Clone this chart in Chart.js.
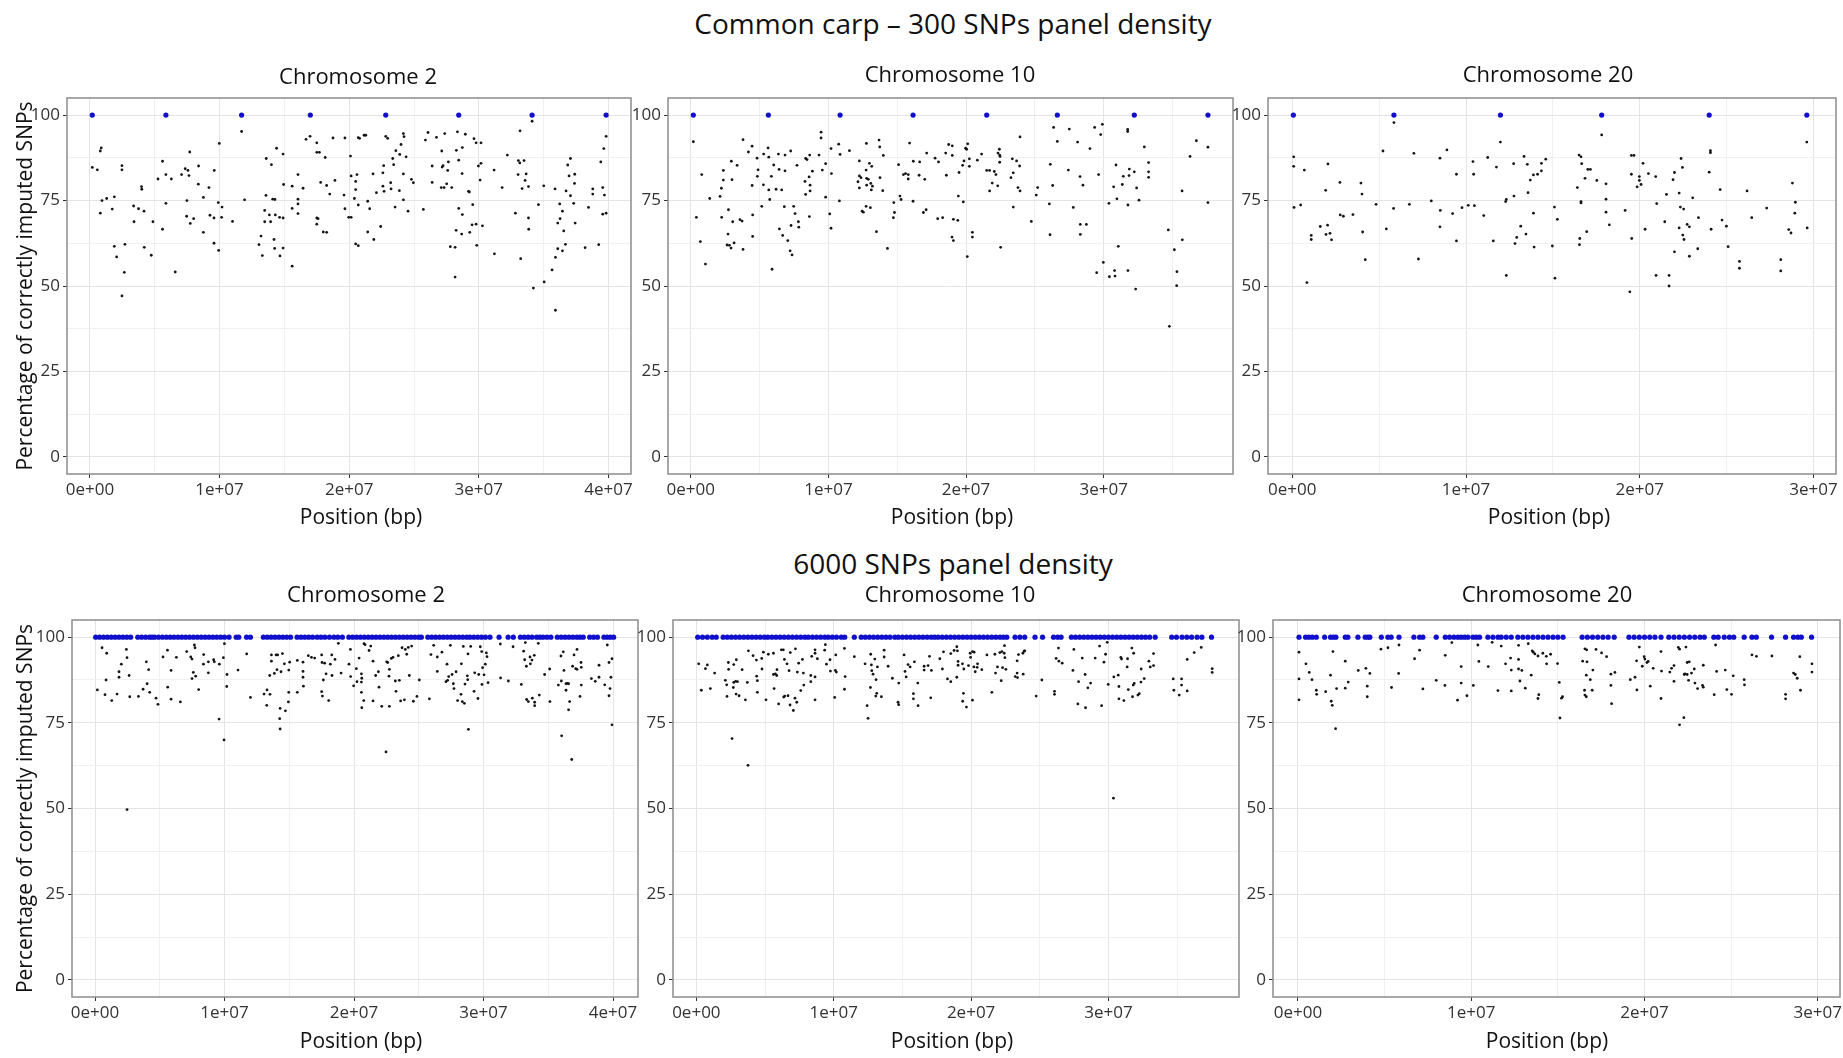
<!DOCTYPE html>
<html>
<head>
<meta charset="utf-8">
<title>Common carp imputation accuracy</title>
<script src="https://cdn.jsdelivr.net/npm/chart.js@4.4.1/dist/chart.umd.min.js"></script>
<style>
    html, body {
        margin: 0;
        padding: 0;
        background: #ffffff;
        overflow: hidden;
    }
    body {
        position: relative;
        width: 1843px;
        height: 1058px;
        font-family: 'Open Sans', sans-serif;
    }
    .heading {
        position: absolute;
        left: 63px;
        width: 1780px;
        text-align: center;
        font-size: 28px;
        line-height: 34px;
        color: #111111;
    }
    canvas {
        position: absolute;
    }
</style>
</head>
<body>
<div class="heading" style="top: 6px;">Common carp – 300 SNPs panel density</div>
<div class="heading" style="top: 546px;">6000 SNPs panel density</div>

<canvas id="chr2Top"></canvas>
<canvas id="chr10Top"></canvas>
<canvas id="chr20Top"></canvas>
<canvas id="chr2Bottom"></canvas>
<canvas id="chr10Bottom"></canvas>
<canvas id="chr20Bottom"></canvas>

<script>
// Axis ticks (positions in bp, percentages on y)
const xTickValues = [0, 1e7, 2e7, 3e7, 4e7];
const xTickLabels = ['0e+00', '1e+07', '2e+07', '3e+07', '4e+07'];
const xMinorValues = [5e6, 1.5e7, 2.5e7, 3.5e7];
const yTickValues = [0, 25, 50, 75, 100];
const yMinorValues = [12.5, 37.5, 62.5, 87.5];

// SNPs imputed with less than 100% accuracy: [position (Mb), % correct]
const chr2Snp300 = [
    [0.18,84.7],[0.57,84.0],[0.8,89.5],[0.87,90.4],[0.93,75.0],[0.8,71.3],[1.29,75.6],[1.88,76.1],[1.72,72.5],[1.88,61.6],
    [2.06,58.5],[2.47,85.2],[2.47,84.0],[2.7,62.2],[2.65,54.0],[2.47,47.1],[3.37,73.4],[3.4,68.8],[3.75,72.6],[3.98,79.1],
    [4.0,78.3],[4.17,71.9],[4.19,61.3],[4.73,59.0],[4.86,68.8],[5.25,81.3],[5.6,86.5],[5.6,66.6],[5.86,82.6],[5.86,74.2],
    [6.28,81.3],[6.58,54.1],[7.07,82.6],[7.35,84.3],[7.56,83.8],[7.64,82.3],[7.7,89.2],[7.48,75.0],[7.46,70.4],[7.74,68.3],
    [8.0,69.7],[8.38,85.1],[8.36,79.8],[8.75,75.9],[8.75,65.7],[9.18,78.8],[9.26,70.7],[9.59,83.8],[9.57,69.9],[9.57,62.5],
    [9.9,74.4],[10.19,73.1],[10.16,70.1],[9.93,60.4],[9.98,91.7],[11.0,68.9],[11.7,95.2],[11.93,75.2],[13.04,62.1],[13.2,64.6],
    [13.3,58.9],[13.48,68.8],[13.48,72.1],[13.58,76.5],[13.6,87.3],[13.94,68.8],[13.84,70.8],[14.0,85.5],[14.1,75.4],[14.27,75.3],
    [14.2,63.6],[14.25,61.0],[14.3,70.8],[14.4,90.3],[14.63,70.1],[14.66,58.8],[14.9,61.1],[14.9,69.9],[14.9,88.6],[14.94,79.7],
    [15.6,55.8],[15.6,72.7],[15.6,79.2],[16.05,82.6],[16.05,75.4],[16.05,74.0],[16.05,71.2],[16.44,78.6],[16.67,92.9],[16.98,93.8],
    [17.5,91.9],[17.5,89.1],[17.7,89.1],[17.8,80.3],[17.5,69.9],[17.6,69.7],[17.5,68.1],[18.0,65.8],[18.26,65.7],[18.15,87.6],
    [18.26,79.4],[18.5,76.9],[18.75,93.3],[18.9,80.9],[19.6,76.6],[19.67,93.3],[19.67,72.6],[19.96,70.1],[20.1,88.0],[20.15,82.2],
    [20.15,70.1],[20.4,75.6],[20.5,78.2],[20.5,80.6],[20.5,62.3],[20.6,82.6],[20.7,73.7],[20.7,61.8],[20.7,93.4],[20.8,93.2],
    [21.15,94.1],[21.28,94.1],[21.43,74.8],[21.43,65.8],[21.58,72.6],[21.84,82.8],[21.9,63.6],[22.1,77.3],[22.43,67.4],[22.6,83.1],
    [22.66,85.2],[22.6,79.2],[22.69,77.7],[22.82,93.8],[22.97,93.2],[23.2,80.2],[23.23,78.4],[23.36,87.3],[23.43,85.5],[23.54,73.1],
    [23.6,89.6],[23.87,77.9],[23.9,88.5],[24.0,91.4],[24.18,94.6],[24.23,93.7],[24.18,82.8],[24.18,75.2],[24.39,87.8],[24.54,71.9],
    [24.8,81.2],[24.95,80.2],[25.72,72.4],[25.88,92.7],[26.08,94.9],[26.4,85.1],[26.4,80.3],[26.73,93.5],[27.1,78.8],[27.14,89.5],
    [27.17,84.8],[27.24,85.2],[27.32,78.8],[27.37,94.6],[27.52,79.9],[27.6,83.8],[27.65,86.3],[27.91,78.8],[27.8,61.5],[28.17,61.3],
    [28.17,52.6],[28.25,66.3],[28.27,89.7],[28.35,95.1],[28.45,86.8],[28.45,72.7],[28.68,65.2],[28.71,82.9],[28.73,90.5],[28.73,70.9],
    [28.96,94.4],[29.2,77.7],[29.27,77.5],[29.3,65.7],[29.48,67.9],[29.53,73.8],[29.63,93.1],[29.79,91.9],[29.79,68.1],[29.84,61.9],
    [29.97,85.1],[30.1,81.0],[30.17,85.9],[30.17,91.9],[30.28,67.6],[31.18,83.9],[31.2,59.4],[31.8,78.8],[32.2,88.3],[32.82,71.3],
    [33.03,82.6],[33.05,86.7],[33.16,86.0],[33.18,95.4],[33.23,58.0],[33.34,78.5],[33.49,86.7],[33.57,80.9],[33.65,82.8],[33.83,79.1],
    [33.83,69.9],[33.85,66.6],[34.11,98.2],[34.21,49.4],[34.6,73.8],[35.01,79.3],[35.04,51.2],[35.65,54.7],[35.88,78.4],[35.91,58.4],
    [35.91,42.9],[36.09,60.9],[36.09,68.4],[36.24,74.0],[36.27,69.7],[36.45,60.3],[36.45,71.9],[36.55,66.1],[36.68,62.2],[36.73,77.8],
    [36.86,85.4],[36.96,82.2],[37.07,87.3],[37.07,76.4],[37.32,74.2],[37.38,80.0],[37.4,82.7],[37.43,68.4],[38.2,61.2],[38.46,73.0],
    [38.79,78.4],[38.79,76.9],[39.25,62.1],[39.41,86.3],[39.56,78.8],[39.56,71.0],[39.64,90.2],[39.69,76.6],[39.82,93.8],[39.82,71.3]
];

const chr10Snp300 = [
    [0.19,92.2],[0.41,70.1],[0.7,63.0],[0.8,82.6],[1.07,56.4],[1.38,75.6],[2.13,76.2],[2.25,70.1],[2.23,78.6],[2.37,81.0],
    [2.37,83.8],[2.74,72.3],[2.71,65.2],[2.64,62.0],[2.81,61.9],[2.93,61.1],[2.95,86.5],[3.0,81.1],[3.05,68.8],[3.15,62.6],
    [3.37,85.3],[3.58,69.4],[3.73,69.0],[3.8,92.8],[3.8,60.7],[4.19,89.2],[4.46,90.9],[4.46,79.4],[4.5,70.8],[4.5,64.5],
    [4.82,87.4],[4.84,82.1],[4.89,84.0],[5.16,73.3],[5.28,79.6],[5.3,88.6],[5.62,90.4],[5.67,87.7],[5.67,78.1],[5.74,75.3],
    [5.86,82.1],[5.91,54.9],[6.03,85.4],[6.2,78.3],[6.37,88.6],[6.42,84.1],[6.44,66.7],[6.61,78.1],[6.68,64.8],[6.8,73.2],
    [6.85,88.3],[6.85,83.7],[7.05,63.3],[7.22,60.3],[7.26,89.5],[7.29,67.7],[7.36,59.1],[7.48,73.3],[7.58,71.2],[7.72,85.3],
    [7.82,68.8],[7.85,67.2],[8.3,80.6],[8.35,76.8],[8.35,87.3],[8.45,87.0],[8.6,81.9],[8.62,70.3],[8.64,88.3],[8.67,79.5],
    [8.67,77.8],[8.84,83.6],[9.32,88.3],[9.47,95.0],[9.47,93.3],[9.56,83.9],[9.8,85.8],[9.8,76.0],[10.1,71.1],[10.19,66.9],
    [10.19,90.2],[10.22,82.9],[10.75,91.5],[10.85,88.5],[10.8,74.9],[11.53,89.6],[12.15,80.5],[12.25,86.6],[12.25,82.2],[12.25,78.7],
    [12.37,81.7],[12.45,71.9],[12.54,71.6],[12.74,83.9],[12.74,73.3],[12.76,91.7],[12.78,81.5],[12.78,79.5],[12.9,81.2],[12.98,85.9],
    [13.05,72.9],[13.08,80.0],[13.12,78.1],[13.15,85.0],[13.2,79.2],[13.49,65.9],[13.68,92.7],[13.73,90.7],[13.75,81.7],[13.99,88.2],
    [13.95,77.9],[14.29,61.0],[14.75,74.4],[14.72,70.0],[14.8,71.5],[15.1,85.5],[15.2,76.3],[15.28,75.3],[15.45,82.6],[15.6,82.9],
    [15.8,82.6],[15.8,81.3],[15.9,91.8],[16.17,86.5],[16.15,74.8],[16.63,86.3],[16.59,82.4],[16.9,71.5],[17.0,81.2],[17.1,72.3],
    [17.14,88.9],[17.75,87.4],[17.94,69.7],[18.0,86.3],[18.3,70.0],[18.52,88.9],[18.57,82.4],[18.74,91.4],[19.0,91.0],[19.0,88.2],
    [18.98,64.3],[19.08,63.3],[19.08,69.5],[19.4,69.2],[19.44,76.3],[19.49,83.2],[19.8,74.6],[19.75,85.3],[19.85,86.6],[19.97,90.3],
    [20.04,90.0],[20.12,91.6],[20.09,58.6],[20.24,87.2],[20.24,85.0],[20.46,65.7],[20.46,64.3],[20.82,86.8],[21.13,88.6],[21.5,83.8],
    [21.71,83.8],[21.71,77.8],[21.9,80.1],[22.05,83.5],[22.17,82.6],[22.32,88.9],[22.3,79.3],[22.42,90.0],[22.44,88.3],[22.44,86.2],
    [22.47,87.9],[22.51,61.3],[23.26,81.7],[23.36,87.2],[23.43,83.1],[23.43,73.1],[23.67,86.6],[23.77,78.8],[23.89,85.1],[23.92,77.8],
    [23.92,93.6],[24.74,68.9],[25.1,76.6],[25.2,78.8],[26.05,74.0],[26.1,65.0],[26.12,85.6],[26.29,79.4],[26.36,96.4],[26.63,92.3],
    [27.43,83.9],[27.5,95.9],[27.79,73.0],[28.1,92.1],[28.28,82.0],[28.3,68.0],[28.3,65.1],[28.49,79.5],[28.74,68.0],[29.0,90.2],
    [29.34,96.4],[29.49,53.9],[29.63,82.6],[29.78,94.3],[29.9,97.3],[29.97,56.9],[30.38,74.2],[30.41,52.7],[30.72,79.0],[30.79,54.5],
    [30.82,52.9],[30.89,85.4],[30.96,75.5],[31.06,61.6],[31.35,79.7],[31.42,82.1],[31.74,95.2],[31.74,95.8],[31.76,73.7],[31.76,54.5],
    [31.84,82.3],[31.86,84.2],[32.22,83.4],[32.32,49.1],[32.39,78.7],[32.56,75.1],[32.95,90.7],[33.26,86.1],[33.26,83.4],[33.26,81.8],
    [34.69,66.4],[34.77,38.2],[35.13,60.6],[35.32,54.2],[35.3,50.1],[35.69,77.8],[35.71,63.5],[36.27,87.9],[36.73,92.5],[37.57,90.6],
    [37.57,74.4]
];

const chr20Snp300 = [
    [0.08,87.8],[0.08,85.0],[0.1,73.0],[0.48,73.7],[0.69,83.9],[0.84,51.0],[1.09,64.8],[1.09,63.6],[1.61,67.4],[1.92,78.0],
    [1.94,65.1],[2.03,67.8],[2.05,85.7],[2.17,65.4],[2.26,63.5],[2.74,80.3],[2.76,70.8],[2.94,70.4],[3.49,70.9],[3.95,80.1],
    [4.01,76.9],[4.05,65.8],[4.2,57.7],[4.82,73.9],[5.22,89.5],[5.41,66.7],[5.83,72.7],[5.85,97.8],[6.74,73.9],[7.0,88.8],
    [7.26,57.9],[8.0,74.9],[8.5,87.4],[8.52,72.1],[8.5,67.3],[8.9,89.8],[9.23,71.2],[9.45,82.7],[9.45,63.2],[9.77,72.9],
    [10.13,73.6],[10.4,86.4],[10.44,82.7],[10.48,73.5],[11.02,70.6],[11.25,87.6],[11.57,63.2],[11.75,84.8],[11.98,92.1],[12.28,74.7],
    [12.32,75.3],[12.32,53.1],[12.74,85.8],[12.76,76.3],[12.82,62.4],[12.92,64.2],[13.15,67.5],[13.34,87.9],[13.45,65.2],[13.53,85.6],
    [13.57,77.3],[13.7,81.0],[13.88,82.5],[13.88,71.3],[13.92,61.4],[14.12,82.7],[14.34,85.9],[14.34,83.7],[14.59,87.1],[14.97,61.7],
    [15.09,73.1],[15.12,52.3],[15.26,69.5],[16.41,78.8],[16.51,88.3],[16.55,63.9],[16.53,62.1],[16.62,87.8],[16.62,74.7],[16.62,74.3],
    [16.66,85.8],[16.85,81.5],[16.95,65.9],[17.01,84.1],[17.16,84.1],[17.53,80.9],[17.81,94.2],[18.06,79.9],[18.06,75.4],[18.06,71.6],
    [18.25,67.9],[19.16,72.1],[19.43,48.3],[19.52,88.2],[19.67,88.2],[19.52,82.7],[19.54,63.9],[19.85,79.0],[19.98,82.0],[19.98,80.9],
    [20.08,79.7],[20.19,85.9],[20.31,66.6],[20.5,82.9],[20.92,82.0],[20.94,53.1],[20.98,74.1],[21.44,68.8],[21.54,76.8],[21.69,53.1],
    [21.69,50.0],[21.92,81.1],[22.0,83.2],[22.0,60.0],[22.27,77.2],[22.27,67.0],[22.34,73.1],[22.38,87.3],[22.46,84.7],[22.48,64.9],
    [22.53,72.5],[22.55,63.6],[22.73,68.0],[22.86,67.3],[22.86,58.7],[23.05,75.8],[23.34,60.9],[23.38,70.0],[24.0,83.3],[24.07,89.6],
    [24.07,89.0],[24.11,66.6],[24.63,78.2],[24.74,69.3],[24.99,67.5],[25.09,61.5],[25.74,57.2],[25.74,55.2],[26.18,77.8],[26.45,70.0],
    [27.31,72.8],[28.12,57.7],[28.12,54.4],[28.58,66.5],[28.71,65.5],[28.79,80.1],[28.93,71.3],[28.96,74.5],[29.62,92.1],[29.64,67.0]
];

const chr2Snp6000 = [
    [0.18,84.6],[0.54,96.9],[0.77,83.2],[0.85,87.5],[0.9,95.3],[1.29,81.5],[1.7,83.4],[1.85,89.9],[1.85,88.3],[2.03,92.1],
    [2.42,96.4],[2.47,94.0],[2.47,49.7],[2.63,88.8],[2.68,82.6],[3.35,82.7],[3.71,84.8],[3.96,92.8],[4.02,86.4],[4.14,90.5],
    [4.22,83.9],[4.71,82.2],[4.86,80.4],[5.25,94.2],[5.59,96.2],[5.61,85.4],[5.87,90.3],[5.87,81.9],[6.28,94.1],[6.59,81.1],
    [7.08,95.8],[7.39,94.2],[7.49,93.6],[7.49,87.9],[7.59,89.7],[7.67,97.7],[7.72,96.9],[7.77,88.6],[8.0,84.7],[8.39,94.9],
    [8.37,92.1],[8.75,92.8],[8.75,89.6],[9.16,93.4],[9.21,92.8],[9.58,76.1],[9.6,92.1],[9.91,94.0],[9.99,98.1],[9.96,70.0],
    [10.19,89.1],[10.17,85.6],[11.04,90.4],[11.71,95.1],[12.0,82.4],[13.05,83.4],[13.28,84.6],[13.26,80.1],[13.49,88.8],[13.51,83.3],
    [13.62,93.0],[13.62,94.8],[13.85,89.4],[13.98,94.8],[14.1,94.8],[14.05,90.5],[14.29,79.2],[14.26,76.2],[14.29,73.2],[14.36,89.9],
    [14.47,95.2],[14.62,92.2],[14.7,78.5],[14.93,81.1],[14.96,83.9],[14.96,90.4],[15.03,92.7],[15.62,93.2],[15.62,83.9],[16.06,92.7],
    [16.06,90.0],[16.06,88.3],[16.09,85.7],[16.47,94.6],[16.71,94.1],[16.96,93.9],[17.5,94.8],[17.53,92.6],[17.63,87.5],[17.5,84.1],
    [17.56,82.8],[17.73,92.4],[17.84,89.3],[18.04,81.5],[18.17,92.1],[18.28,94.8],[18.3,88.8],[18.53,93.5],[18.79,98.2],[19.0,89.5],
    [19.61,92.1],[19.72,96.4],[19.74,88.5],[19.97,85.8],[20.18,90.8],[20.23,87.0],[20.39,93.9],[20.57,89.3],[20.57,86.9],[20.6,88.0],
    [20.57,83.9],[20.6,79.4],[20.75,81.5],[20.77,98.1],[20.85,97.8],[21.16,96.1],[21.29,97.4],[21.47,93.0],[21.67,88.8],[21.47,81.4],
    [21.88,89.9],[21.93,85.4],[22.14,79.8],[22.47,66.5],[22.52,92.8],[22.6,92.6],[22.73,90.6],[22.73,79.8],[22.7,88.6],[22.88,93.8],
    [23.01,94.1],[23.19,87.2],[23.24,84.2],[23.42,94.6],[23.5,87.4],[23.6,81.4],[23.71,96.9],[23.89,81.7],[23.96,96.4],[24.07,95.0],
    [24.19,97.0],[24.27,88.8],[24.45,97.4],[24.58,81.3],[24.86,82.7],[25.04,87.5],[25.82,82.0],[25.94,94.9],[26.15,97.6],[26.43,90.0],
    [26.43,94.2],[26.79,95.6],[27.1,87.0],[27.18,92.1],[27.23,87.4],[27.31,88.5],[27.44,97.6],[27.57,89.1],[27.67,86.4],[27.72,85.0],
    [27.88,89.9],[28.0,81.5],[28.26,83.3],[28.29,92.2],[28.36,81.2],[28.44,97.3],[28.52,80.7],[28.57,86.3],[28.75,88.7],[28.78,87.6],
    [28.8,95.1],[28.83,73.1],[29.01,97.3],[29.27,84.2],[29.32,89.6],[29.57,82.1],[29.63,89.1],[29.75,97.2],[29.86,95.8],[29.88,86.2],
    [29.93,91.1],[30.04,89.0],[30.14,92.1],[30.22,95.4],[30.27,94.3],[30.35,86.7],[31.3,98.0],[31.32,88.1],[31.92,87.2],[32.28,97.2],
    [32.92,86.2],[33.1,95.9],[33.18,93.4],[33.23,98.4],[33.31,91.5],[33.33,81.8],[33.46,81.2],[33.59,94.2],[33.62,92.2],[33.74,93.3],
    [33.77,82.2],[33.92,94.7],[33.95,81.0],[33.95,80.0],[34.23,98.2],[34.31,83.1],[34.72,89.1],[35.11,90.7],[35.13,81.2],[35.78,86.0],
    [36.03,71.2],[35.98,94.5],[36.01,87.2],[36.16,95.7],[36.21,90.3],[36.37,86.4],[36.37,84.5],[36.47,86.5],[36.57,86.4],[36.57,78.8],
    [36.65,81.2],[36.81,64.3],[36.88,91.5],[36.99,94.8],[37.12,90.8],[37.22,96.4],[37.22,90.6],[37.45,82.7],[37.53,92.6],[37.55,91.2],
    [37.55,86.0],[38.33,87.9],[38.63,87.1],[38.92,91.8],[38.92,88.3],[39.36,86.1],[39.56,97.7],[39.69,92.6],[39.69,82.9],[39.77,85.0],
    [39.84,88.3],[39.92,93.7],[39.92,74.4]
];

const chr10Snp6000 = [
    [0.17,92.2],[0.36,84.5],[0.66,90.8],[0.8,91.9],[1.02,85.0],[1.33,89.5],[2.11,87.4],[2.21,86.1],[2.23,82.7],[2.33,92.6],
    [2.35,90.6],[2.6,70.4],[2.69,85.3],[2.72,92.0],[2.72,86.8],[2.86,87.1],[2.91,93.4],[2.89,83.4],[2.99,87.0],[3.11,82.9],
    [3.33,90.5],[3.57,81.7],[3.71,86.8],[3.76,62.6],[3.79,96.0],[4.13,94.6],[4.37,93.3],[4.39,88.6],[4.44,87.3],[4.44,83.9],
    [4.76,93.8],[4.78,90.7],[4.88,95.6],[5.07,81.7],[5.24,95.0],[5.61,95.3],[5.61,89.1],[5.66,85.0],[5.75,89.3],[5.85,88.8],
    [5.87,90.5],[5.99,80.5],[6.19,96.3],[6.33,96.3],[6.36,82.5],[6.41,93.5],[6.43,82.8],[6.6,92.2],[6.67,82.9],[6.75,90.2],
    [6.82,80.2],[6.84,95.5],[7.06,78.6],[7.18,82.2],[7.21,96.6],[7.31,81.0],[7.35,89.8],[7.45,92.4],[7.6,84.4],[7.72,93.5],
    [7.79,89.5],[7.82,86.0],[8.33,88.8],[8.33,87.0],[8.4,94.4],[8.64,96.3],[8.64,95.3],[8.64,88.4],[8.64,81.7],[8.81,93.7],
    [9.34,96.2],[9.39,97.8],[9.47,92.1],[9.73,93.4],[9.76,90.1],[10.07,82.4],[10.12,90.3],[10.15,94.8],[10.19,89.8],[10.78,96.7],
    [10.78,84.8],[10.83,88.5],[11.5,94.3],[12.28,92.2],[12.43,80.0],[12.5,76.3],[12.69,95.0],[12.67,85.3],[12.74,91.9],[12.77,90.2],
    [12.86,89.2],[12.99,93.6],[13.06,82.8],[13.08,87.6],[13.13,83.6],[13.18,91.3],[13.47,82.6],[13.67,94.2],[13.67,96.2],[13.96,91.5],
    [14.27,88.0],[14.68,81.0],[14.73,86.6],[14.73,80.3],[15.12,94.8],[15.19,90.0],[15.27,88.4],[15.41,92.0],[15.56,91.3],[15.8,83.5],
    [15.8,82.0],[15.87,92.8],[16.12,86.6],[16.14,80.0],[16.58,90.4],[16.58,91.5],[16.87,91.7],[16.97,94.4],[17.06,82.3],[17.11,90.3],
    [17.72,93.7],[17.91,90.7],[17.99,95.7],[18.28,87.8],[18.52,95.2],[18.52,87.0],[18.76,96.1],[18.96,97.2],[18.96,88.3],[19.0,96.0],
    [19.05,92.9],[19.05,91.8],[19.37,92.2],[19.44,83.6],[19.39,81.3],[19.47,90.7],[19.66,79.6],[19.81,91.7],[19.93,95.3],[19.96,94.1],
    [20.1,95.8],[20.22,95.6],[20.1,81.6],[20.2,91.3],[20.3,89.9],[20.47,92.2],[20.44,91.2],[20.78,90.5],[21.15,94.8],[21.51,83.9],
    [21.73,95.0],[21.78,89.5],[21.92,91.3],[22.09,95.5],[22.19,87.3],[22.24,95.8],[22.29,91.1],[22.41,95.3],[22.43,97.5],[22.46,94.0],
    [22.53,90.6],[23.21,88.5],[23.35,93.1],[23.35,89.5],[23.38,88.2],[23.45,94.9],[23.77,95.3],[23.79,89.2],[23.86,95.9],[23.91,96.0],
    [24.74,82.8],[25.15,87.5],[26.07,84.2],[26.07,83.3],[26.36,96.8],[26.19,93.8],[26.39,93.0],[26.63,92.4],[27.48,96.4],[27.41,90.3],
    [27.82,87.0],[27.77,80.5],[28.09,93.9],[28.3,89.1],[28.33,79.4],[28.5,85.2],[28.7,86.6],[29.03,93.9],[29.35,97.4],[29.5,80.0],
    [29.67,92.7],[29.79,95.0],[29.91,98.5],[29.98,86.2],[30.36,53.0],[30.39,88.4],[30.71,88.9],[30.76,85.6],[30.76,82.0],[30.9,94.1],
    [30.95,93.6],[31.12,81.5],[31.39,93.7],[31.36,91.3],[31.44,84.7],[31.7,96.8],[31.83,95.3],[31.75,82.6],[31.8,86.0],[31.87,86.5],
    [32.14,83.1],[32.24,83.5],[32.36,86.9],[32.38,90.7],[32.6,87.9],[32.94,93.0],[33.04,91.3],[33.28,95.2],[33.28,91.7],[34.71,87.8],
    [34.76,84.5],[35.15,83.1],[35.32,87.8],[35.32,86.0],[35.73,84.3],[35.73,93.5],[36.24,95.5],[36.75,97.0],[37.55,90.8],[37.55,89.7]
];

const chr20Snp6000 = [
    [0.06,95.6],[0.06,87.8],[0.06,81.7],[0.46,92.2],[0.65,89.7],[0.81,87.6],[1.06,84.5],[1.08,83.3],[1.6,84.1],[1.88,88.9],
    [1.92,81.3],[1.98,80.1],[2.02,95.8],[2.17,73.3],[2.23,85.0],[2.73,93.0],[2.73,85.1],[2.9,86.9],[3.48,90.3],[3.92,90.9],
    [4.0,85.7],[4.0,82.6],[4.15,89.4],[4.79,96.5],[5.19,96.9],[5.4,85.3],[5.81,89.4],[5.83,97.7],[6.73,93.7],[7.02,96.2],
    [7.21,84.9],[7.98,87.4],[8.48,85.9],[8.5,94.7],[8.88,98.4],[9.21,81.6],[9.42,91.4],[9.42,86.6],[9.75,82.9],[10.12,85.9],
    [10.38,97.7],[10.44,92.9],[10.98,91.4],[11.21,98.5],[11.54,84.4],[11.73,97.4],[11.98,92.2],[12.27,93.9],[12.31,90.4],[12.31,84.3],
    [12.73,97.6],[12.73,93.5],[12.73,90.7],[12.81,87.2],[12.92,90.3],[13.12,85.1],[13.29,98.1],[13.46,88.9],[13.52,96.0],[13.58,95.6],
    [13.67,95.1],[13.85,94.5],[13.85,82.1],[13.9,83.2],[14.13,95.3],[14.33,94.4],[14.35,92.2],[14.58,95.0],[14.98,92.3],[15.08,86.8],
    [15.12,76.4],[15.21,82.2],[15.27,82.6],[16.43,93.0],[16.56,96.6],[16.66,96.3],[16.54,84.5],[16.56,83.1],[16.64,82.6],[16.68,92.8],
    [16.64,88.9],[16.87,87.6],[16.98,84.5],[17.02,90.4],[17.2,96.4],[17.52,95.4],[17.81,94.3],[18.06,89.2],[18.06,85.9],[18.1,80.6],
    [18.29,89.7],[19.18,87.6],[19.45,88.3],[19.54,93.1],[19.56,84.6],[19.7,97.1],[19.87,91.5],[19.98,94.3],[20.02,93.6],[20.14,92.6],
    [20.21,92.9],[20.33,85.7],[20.5,90.9],[20.95,95.8],[20.98,90.1],[20.95,82.1],[21.46,89.8],[21.56,90.9],[21.7,91.7],[21.7,87.1],
    [21.95,97.0],[22.02,96.5],[22.29,89.1],[22.33,89.3],[22.27,76.5],[22.02,74.4],[22.39,97.1],[22.46,92.6],[22.46,89.1],[22.58,92.8],
    [22.54,87.4],[22.71,89.5],[22.87,90.7],[22.91,86.6],[23.06,85.0],[23.35,85.9],[23.39,91.8],[23.39,85.4],[24.02,83.2],[24.1,97.7],
    [24.16,90.0],[24.66,90.4],[24.75,84.7],[25.02,83.3],[25.12,88.7],[25.75,87.6],[25.77,86.1],[26.2,94.8],[26.46,94.4],[27.35,94.5],
    [28.14,83.3],[28.14,82.0],[28.6,89.5],[28.7,89.1],[28.81,88.0],[28.96,94.3],[29.0,84.5],[29.66,92.2],[29.66,89.8]
];

// SNPs imputed with 100% accuracy: positions (Mb)
const chr2Snp300Full = [0.18, 5.86, 11.7, 17.0, 22.82, 28.45, 34.11, 39.82];
const chr10Snp300Full = [0.19, 5.64, 10.85, 16.15, 21.5, 26.63, 32.22, 37.57];
const chr20Snp300Full = [0.06, 5.85, 11.98, 17.81, 24.0, 29.62];

const chr2Snp6000Full = [
    0.05, 0.35, 0.65, 0.95, 1.25, 1.55, 1.85, 2.15, 2.45, 2.75, 3.3, 3.6, 3.9, 4.2, 4.4,
    4.6, 4.9, 5.2, 5.5, 5.8, 6.1, 6.4, 6.7, 7.0, 7.3, 7.6, 7.9, 8.2, 8.5, 8.8, 9.1, 9.4, 9.7, 10.0, 10.35,
    10.9, 11.1, 11.7, 12.0, 13.0, 13.3, 13.6, 13.9, 14.2, 14.5, 14.8, 15.1, 15.6, 15.9, 16.2, 16.5, 16.8, 17.15,
    17.45, 17.75, 18.1, 18.45, 18.75, 19.1, 19.6, 19.9, 20.2, 20.5, 20.8, 21.1, 21.4, 21.7, 22.0, 22.3, 22.6,
    22.9, 23.2, 23.5, 23.8, 24.1, 24.4, 24.7, 25.0, 25.2, 25.7, 26.0, 26.3, 26.6, 26.9, 27.2, 27.5, 27.8, 28.1,
    28.4, 28.7, 28.95, 29.25, 29.55, 29.85, 30.15, 30.5, 31.2, 31.9, 32.3, 32.85, 33.15, 33.45, 33.75, 34.1,
    34.35, 34.6, 34.9, 35.2, 35.7, 36.0, 36.3, 36.6, 36.9, 37.2, 37.45, 37.7, 38.2, 38.5, 38.8, 39.3, 39.55,
    39.8, 40.05
];
const chr10Snp6000Full = [
    0.1, 0.45, 0.8, 1.15, 1.45, 1.95, 2.25, 2.55, 2.85, 3.15, 3.45, 3.75, 4.05, 4.35, 4.65, 4.95, 5.2,
    5.5, 5.8, 6.1, 6.4, 6.7, 7.0, 7.3, 7.6, 7.9, 8.15, 8.45, 8.75, 9.05, 9.35, 9.6, 9.9, 10.2, 10.55,
    10.8, 11.5, 12.0, 12.3, 12.6, 12.9, 13.2, 13.5, 13.8, 14.1, 14.45, 14.7, 15.0, 15.3, 15.6, 15.9, 16.2,
    16.5, 16.8, 17.1, 17.35, 17.6, 17.9, 18.2, 18.5, 18.8, 19.1, 19.4, 19.7, 20.0, 20.3, 20.6, 20.9, 21.2,
    21.5, 21.8, 22.1, 22.35, 22.6, 23.2, 23.55, 23.9, 24.65, 25.2, 26.0, 26.3, 26.55, 27.3, 27.6, 27.9,
    28.2, 28.5, 28.8, 29.1, 29.4, 29.7, 30.0, 30.3, 30.6, 30.9, 31.2, 31.5, 31.8, 32.1, 32.4, 32.7, 33.0,
    33.4, 34.6, 34.95, 35.35, 35.7, 36.05, 36.45, 36.8, 37.5
];
const chr20Snp6000Full = [
    0.06, 0.44, 0.63, 0.83, 1.06, 1.54, 1.88, 2.04, 2.19, 2.73, 2.88, 3.46, 3.88, 4.04, 4.15, 4.81, 5.19,
    5.38, 5.83, 6.69, 7.02, 7.21, 7.98, 8.5, 8.75, 9.0, 9.23, 9.42, 9.62, 9.81, 10.1, 10.29, 10.48, 10.96,
    11.25, 11.54, 11.73, 12.02, 12.31, 12.69, 12.98, 13.27, 13.56, 13.85, 14.14, 14.43, 14.72, 15.0, 15.3,
    16.4, 16.7, 17.0, 17.3, 17.6, 17.9, 18.25, 19.1, 19.4, 19.7, 20.0, 20.3, 20.6, 20.95, 21.4, 21.7, 22.0,
    22.3, 22.6, 22.9, 23.2, 23.45, 24.0, 24.25, 24.6, 24.9, 25.15, 25.75, 26.2, 26.45, 27.33, 28.14, 28.6,
    28.85, 29.05, 29.64
];

Chart.defaults.font.family = "'Open Sans', sans-serif";

const tickColor = '#333333';
const titleColor = '#111111';
const majorGrid = '#e4e4e4';
const minorGrid = '#f0f0f0';

// one entry per facet; top/bottom/left/right are the plot edges on the page,
// titleX/xLabelX are where the facet title and the x axis title are centred
const panels = [
    { canvasId: 'chr2Top', title: 'Chromosome 2', titleX: 358, titleY: 77.6, xLabelX: 361, xLabelY: 518.5, top: 98, bottom: 474, left: 67, right: 631, xMin: -1.77, xMax: 41.74, black: chr2Snp300, blue: chr2Snp300Full, showYTitle: true },
    { canvasId: 'chr10Top', title: 'Chromosome 10', titleX: 950, titleY: 76, xLabelX: 952, xLabelY: 518.5, top: 98, bottom: 474, left: 668, right: 1233, xMin: -1.65, xMax: 39.39, black: chr10Snp300, blue: chr10Snp300Full, showYTitle: false },
    { canvasId: 'chr20Top', title: 'Chromosome 20', titleX: 1548, titleY: 76, xLabelX: 1549, xLabelY: 518.5, top: 98, bottom: 474, left: 1268, right: 1836, xMin: -1.40, xMax: 31.3, black: chr20Snp300, blue: chr20Snp300Full, showYTitle: false },
    { canvasId: 'chr2Bottom', title: 'Chromosome 2', titleX: 366, titleY: 596, xLabelX: 361, xLabelY: 1042.5, top: 620, bottom: 997, left: 72, right: 638, xMin: -1.78, xMax: 41.93, black: chr2Snp6000, blue: chr2Snp6000Full, showYTitle: true },
    { canvasId: 'chr10Bottom', title: 'Chromosome 10', titleX: 950, titleY: 596, xLabelX: 952, xLabelY: 1042.5, top: 620, bottom: 997, left: 673, right: 1239, xMin: -1.70, xMax: 39.5, black: chr10Snp6000, blue: chr10Snp6000Full, showYTitle: false },
    { canvasId: 'chr20Bottom', title: 'Chromosome 20', titleX: 1547, titleY: 596, xLabelX: 1547, xLabelY: 1042.5, top: 620, bottom: 997, left: 1273, right: 1840, xMin: -1.44, xMax: 31.28, black: chr20Snp6000, blue: chr20Snp6000Full, showYTitle: false }
];

// grey frame around each facet
const panelBorder = {
    id: 'panelBorder',
    afterDatasetsDraw(chart) {
        const { ctx, chartArea } = chart;
        ctx.save();
        ctx.strokeStyle = '#8c8c8c';
        ctx.lineWidth = 1.5;
        ctx.strokeRect(chartArea.left, chartArea.top, chartArea.right - chartArea.left, chartArea.bottom - chartArea.top);
        ctx.restore();
    }
};

// facet title above and x axis title below, at fixed offsets
const facetLabels = {
    id: 'facetLabels',
    afterDraw(chart, args, opts) {
        const { ctx } = chart;
        ctx.save();
        ctx.fillStyle = titleColor;
        ctx.textAlign = 'center';
        ctx.textBaseline = 'middle';
        ctx.font = "22px 'Open Sans', sans-serif";
        ctx.fillText(opts.title, opts.titleX, opts.titleY);
        ctx.font = "21px 'Open Sans', sans-serif";
        ctx.fillText('Position (bp)', opts.xLabelX, opts.xLabelY);
        ctx.restore();
    }
};

panels.forEach(drawPanel);

function drawPanel(panel) {
    const canvas = document.getElementById(panel.canvasId);
    const canvasLeft = panel.showYTitle ? 0 : panel.left - 52;
    const canvasTop = panel.top - 50;
    const yAxisWidth = panel.left - canvasLeft;

    canvas.width = panel.right + 40 - canvasLeft;
    canvas.height = panel.bottom + 64 - canvasTop;
    canvas.style.left = `${canvasLeft}px`;
    canvas.style.top = `${canvasTop}px`;

    const xMin = panel.xMin * 1e6;
    const xMax = panel.xMax * 1e6;
    const xMajor = xTickValues.filter((v) => v >= xMin && v <= xMax);
    const xGrid = xMajor
        .concat(xMinorValues.filter((v) => v >= xMin && v <= xMax))
        .sort((a, b) => a - b);
    const yGrid = yTickValues.concat(yMinorValues).sort((a, b) => a - b);

    new Chart(canvas, {
        type: 'scatter',
        data: {
            datasets: [
                {
                    data: panel.black.map(([mb, pct]) => ({ x: mb * 1e6, y: pct })),
                    pointRadius: 1.4,
                    backgroundColor: '#151515',
                    borderWidth: 0
                },
                {
                    data: panel.blue.map((mb) => ({ x: mb * 1e6, y: 100 })),
                    pointRadius: 2.6,
                    backgroundColor: '#0f0fcc',
                    borderWidth: 0
                }
            ]
        },
        options: {
            responsive: false,
            animation: false,
            events: [],
            layout: {
                padding: { left: 0, right: 40, top: 50, bottom: 0 }
            },
            plugins: {
                legend: { display: false },
                tooltip: { enabled: false },
                title: { display: false },
                facetLabels: {
                    title: panel.title,
                    titleX: panel.titleX - canvasLeft,
                    titleY: panel.titleY - canvasTop,
                    xLabelX: panel.xLabelX - canvasLeft,
                    xLabelY: panel.xLabelY - canvasTop
                }
            },
            scales: {
                x: {
                    type: 'linear',
                    min: xMin,
                    max: xMax,
                    afterBuildTicks: (scale) => {
                        scale.ticks = xGrid.map((v) => ({ value: v }));
                    },
                    afterFit: (scale) => {
                        scale.height = 64;
                    },
                    ticks: {
                        autoSkip: false,
                        maxRotation: 0,
                        padding: 2,
                        color: tickColor,
                        font: { size: 17 },
                        callback: (value) => {
                            const i = xTickValues.indexOf(value);
                            return i >= 0 ? xTickLabels[i] : '';
                        }
                    },
                    grid: {
                        color: (ctx) => (xTickValues.includes(ctx.tick.value) ? majorGrid : minorGrid),
                        tickColor: (ctx) => (xTickValues.includes(ctx.tick.value) ? tickColor : 'rgba(0,0,0,0)'),
                        tickLength: 4
                    },
                    border: { display: false },
                    title: { display: false }
                },
                y: {
                    type: 'linear',
                    min: -5,
                    max: 105,
                    afterBuildTicks: (scale) => {
                        scale.ticks = yGrid.map((v) => ({ value: v }));
                    },
                    afterFit: (scale) => {
                        scale.width = yAxisWidth;
                    },
                    ticks: {
                        autoSkip: false,
                        padding: 3,
                        color: tickColor,
                        font: { size: 17 },
                        callback: (value) => (yTickValues.includes(value) ? String(value) : '')
                    },
                    grid: {
                        color: (ctx) => (yTickValues.includes(ctx.tick.value) ? majorGrid : minorGrid),
                        tickColor: (ctx) => (yTickValues.includes(ctx.tick.value) ? tickColor : 'rgba(0,0,0,0)'),
                        tickLength: 4
                    },
                    border: { display: false },
                    title: {
                        display: panel.showYTitle,
                        text: 'Percentage of correctly imputed SNPs',
                        color: titleColor,
                        font: { size: 21 },
                        padding: { top: 13.4, bottom: 0 }
                    }
                }
            }
        },
        plugins: [panelBorder, facetLabels]
    });
}
</script>
</body>
</html>
